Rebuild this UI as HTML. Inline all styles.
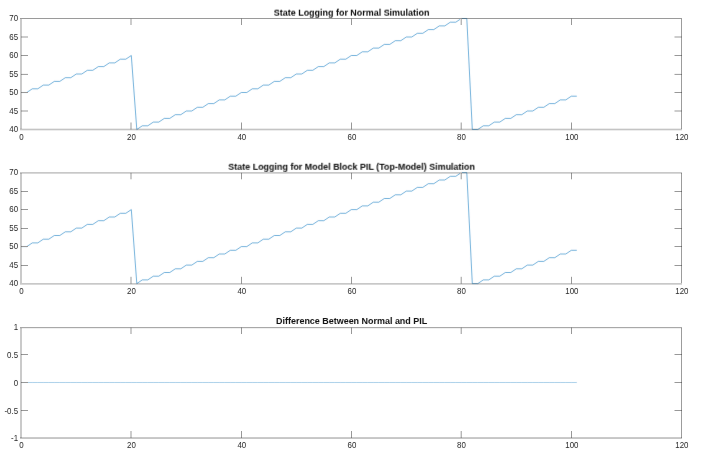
<!DOCTYPE html>
<html><head><meta charset="utf-8"><style>
html,body{margin:0;padding:0;background:#fff;width:704px;height:469px;overflow:hidden}
svg{display:block;position:absolute;left:0;top:0}
.tl{font-family:"Liberation Sans",sans-serif;font-size:9px;fill:#262626}
.tt{font-family:"Liberation Sans",sans-serif;font-size:9px;font-weight:bold;fill:#0d0d0d}
</style></head><body>
<svg class="dt" width="704" height="469" viewBox="0 0 704 469">
<g fill="none" stroke="#0072BD" stroke-width="0.55" stroke-linejoin="round">
<g filter="url(#db)">
<path d="M21.30,92.50 L26.80,92.50 L32.30,88.80 L37.80,88.80 L43.30,85.10 L48.80,85.10 L54.30,81.40 L59.80,81.40 L65.30,77.70 L70.80,77.70 L76.30,74.00 L81.80,74.00 L87.30,70.30 L92.80,70.30 L98.30,66.60 L103.80,66.60 L109.30,62.90 L114.80,62.90 L120.30,59.20 L125.80,59.20 L131.30,55.50 L136.80,129.50 L142.30,125.80 L147.80,125.80 L153.30,122.10 L158.80,122.10 L164.30,118.40 L169.80,118.40 L175.30,114.70 L180.80,114.70 L186.30,111.00 L191.80,111.00 L197.30,107.30 L202.80,107.30 L208.30,103.60 L213.80,103.60 L219.30,99.90 L224.80,99.90 L230.30,96.20 L235.80,96.20 L241.30,92.50 L246.80,92.50 L252.30,88.80 L257.80,88.80 L263.30,85.10 L268.80,85.10 L274.30,81.40 L279.80,81.40 L285.30,77.70 L290.80,77.70 L296.30,74.00 L301.80,74.00 L307.30,70.30 L312.80,70.30 L318.30,66.60 L323.80,66.60 L329.30,62.90 L334.80,62.90 L340.30,59.20 L345.80,59.20 L351.30,55.50 L356.80,55.50 L362.30,51.80 L367.80,51.80 L373.30,48.10 L378.80,48.10 L384.30,44.40 L389.80,44.40 L395.30,40.70 L400.80,40.70 L406.30,37.00 L411.80,37.00 L417.30,33.30 L422.80,33.30 L428.30,29.60 L433.80,29.60 L439.30,25.90 L444.80,25.90 L450.30,22.20 L455.80,22.20 L461.30,18.50 L466.80,18.50 L472.30,129.50 L477.80,129.50 L483.30,125.80 L488.80,125.80 L494.30,122.10 L499.80,122.10 L505.30,118.40 L510.80,118.40 L516.30,114.70 L521.80,114.70 L527.30,111.00 L532.80,111.00 L538.30,107.30 L543.80,107.30 L549.30,103.60 L554.80,103.60 L560.30,99.90 L565.80,99.90 L571.30,96.20 L576.80,96.20"/>
<path d="M21.30,246.60 L26.80,246.60 L32.30,242.90 L37.80,242.90 L43.30,239.20 L48.80,239.20 L54.30,235.50 L59.80,235.50 L65.30,231.80 L70.80,231.80 L76.30,228.10 L81.80,228.10 L87.30,224.40 L92.80,224.40 L98.30,220.70 L103.80,220.70 L109.30,217.00 L114.80,217.00 L120.30,213.30 L125.80,213.30 L131.30,209.60 L136.80,283.60 L142.30,279.90 L147.80,279.90 L153.30,276.20 L158.80,276.20 L164.30,272.50 L169.80,272.50 L175.30,268.80 L180.80,268.80 L186.30,265.10 L191.80,265.10 L197.30,261.40 L202.80,261.40 L208.30,257.70 L213.80,257.70 L219.30,254.00 L224.80,254.00 L230.30,250.30 L235.80,250.30 L241.30,246.60 L246.80,246.60 L252.30,242.90 L257.80,242.90 L263.30,239.20 L268.80,239.20 L274.30,235.50 L279.80,235.50 L285.30,231.80 L290.80,231.80 L296.30,228.10 L301.80,228.10 L307.30,224.40 L312.80,224.40 L318.30,220.70 L323.80,220.70 L329.30,217.00 L334.80,217.00 L340.30,213.30 L345.80,213.30 L351.30,209.60 L356.80,209.60 L362.30,205.90 L367.80,205.90 L373.30,202.20 L378.80,202.20 L384.30,198.50 L389.80,198.50 L395.30,194.80 L400.80,194.80 L406.30,191.10 L411.80,191.10 L417.30,187.40 L422.80,187.40 L428.30,183.70 L433.80,183.70 L439.30,180.00 L444.80,180.00 L450.30,176.30 L455.80,176.30 L461.30,172.60 L466.80,172.60 L472.30,283.60 L477.80,283.60 L483.30,279.90 L488.80,279.90 L494.30,276.20 L499.80,276.20 L505.30,272.50 L510.80,272.50 L516.30,268.80 L521.80,268.80 L527.30,265.10 L532.80,265.10 L538.30,261.40 L543.80,261.40 L549.30,257.70 L554.80,257.70 L560.30,254.00 L565.80,254.00 L571.30,250.30 L576.80,250.30"/>
<path d="M21.30,382.50 L26.80,382.50 L32.30,382.50 L37.80,382.50 L43.30,382.50 L48.80,382.50 L54.30,382.50 L59.80,382.50 L65.30,382.50 L70.80,382.50 L76.30,382.50 L81.80,382.50 L87.30,382.50 L92.80,382.50 L98.30,382.50 L103.80,382.50 L109.30,382.50 L114.80,382.50 L120.30,382.50 L125.80,382.50 L131.30,382.50 L136.80,382.50 L142.30,382.50 L147.80,382.50 L153.30,382.50 L158.80,382.50 L164.30,382.50 L169.80,382.50 L175.30,382.50 L180.80,382.50 L186.30,382.50 L191.80,382.50 L197.30,382.50 L202.80,382.50 L208.30,382.50 L213.80,382.50 L219.30,382.50 L224.80,382.50 L230.30,382.50 L235.80,382.50 L241.30,382.50 L246.80,382.50 L252.30,382.50 L257.80,382.50 L263.30,382.50 L268.80,382.50 L274.30,382.50 L279.80,382.50 L285.30,382.50 L290.80,382.50 L296.30,382.50 L301.80,382.50 L307.30,382.50 L312.80,382.50 L318.30,382.50 L323.80,382.50 L329.30,382.50 L334.80,382.50 L340.30,382.50 L345.80,382.50 L351.30,382.50 L356.80,382.50 L362.30,382.50 L367.80,382.50 L373.30,382.50 L378.80,382.50 L384.30,382.50 L389.80,382.50 L395.30,382.50 L400.80,382.50 L406.30,382.50 L411.80,382.50 L417.30,382.50 L422.80,382.50 L428.30,382.50 L433.80,382.50 L439.30,382.50 L444.80,382.50 L450.30,382.50 L455.80,382.50 L461.30,382.50 L466.80,382.50 L472.30,382.50 L477.80,382.50 L483.30,382.50 L488.80,382.50 L494.30,382.50 L499.80,382.50 L505.30,382.50 L510.80,382.50 L516.30,382.50 L521.80,382.50 L527.30,382.50 L532.80,382.50 L538.30,382.50 L543.80,382.50 L549.30,382.50 L554.80,382.50 L560.30,382.50 L565.80,382.50 L571.30,382.50 L576.80,382.50" stroke-opacity="0.62"/>
</g>
</g>
</svg>
<svg class="ln" width="704" height="469" viewBox="0 0 704 469">
<defs><filter id="tb" x="0" y="0" width="100%" height="100%" filterUnits="userSpaceOnUse"><feConvolveMatrix order="3" kernelMatrix="0.0001 0.0097 0.0001 0.0097 0.9606 0.0097 0.0001 0.0097 0.0001" divisor="1" edgeMode="none"/></filter><filter id="db" x="0" y="0" width="100%" height="100%" filterUnits="userSpaceOnUse"><feConvolveMatrix order="3" kernelMatrix="0.0016 0.0371 0.0016 0.0371 0.8450 0.0371 0.0016 0.0371 0.0016" divisor="1" edgeMode="none"/></filter></defs>
<rect x="20" y="18" width="662" height="1" fill="#323232" fill-opacity="0.493"/>
<rect x="20" y="128" width="662" height="1" fill="#323232" fill-opacity="0.093"/>
<rect x="20" y="129" width="662" height="1" fill="#323232" fill-opacity="0.288"/>
<rect x="20" y="130" width="662" height="1" fill="#323232" fill-opacity="0.093"/>
<rect x="20" y="19" width="2" height="110" fill="#323232" fill-opacity="0.259"/>
<rect x="681" y="19" width="1" height="110" fill="#323232" fill-opacity="0.483"/>
<rect x="20" y="172" width="662" height="1" fill="#323232" fill-opacity="0.268"/>
<rect x="20" y="173" width="662" height="1" fill="#323232" fill-opacity="0.190"/>
<rect x="20" y="283" width="662" height="1" fill="#323232" fill-opacity="0.268"/>
<rect x="20" y="284" width="662" height="1" fill="#323232" fill-opacity="0.190"/>
<rect x="20" y="173" width="2" height="110" fill="#323232" fill-opacity="0.259"/>
<rect x="681" y="173" width="1" height="110" fill="#323232" fill-opacity="0.483"/>
<rect x="20" y="327" width="662" height="1" fill="#323232" fill-opacity="0.424"/>
<rect x="20" y="328" width="662" height="1" fill="#323232" fill-opacity="0.073"/>
<rect x="20" y="437" width="662" height="1" fill="#323232" fill-opacity="0.259"/>
<rect x="20" y="438" width="662" height="1" fill="#323232" fill-opacity="0.278"/>
<rect x="20" y="328" width="2" height="110" fill="#323232" fill-opacity="0.259"/>
<rect x="681" y="328" width="1" height="110" fill="#323232" fill-opacity="0.483"/>
</svg>
<svg class="tk" width="704" height="469" viewBox="0 0 704 469">
<rect x="130" y="122" width="1" height="1" fill="#e5e5e5"/>
<rect x="130" y="123" width="1" height="5" fill="#cccccc"/>
<rect x="130" y="128" width="1" height="1" fill="#bebebe"/>
<rect x="130" y="129" width="1" height="1" fill="#b5b5b5"/>
<rect x="131" y="122" width="1" height="1" fill="#e5e5e5"/>
<rect x="131" y="123" width="1" height="5" fill="#cccccc"/>
<rect x="131" y="128" width="1" height="1" fill="#bebebe"/>
<rect x="131" y="129" width="1" height="1" fill="#b5b5b5"/>
<rect x="130" y="18" width="1" height="1" fill="#929292"/>
<rect x="130" y="19" width="1" height="6" fill="#cccccc"/>
<rect x="131" y="18" width="1" height="1" fill="#929292"/>
<rect x="131" y="19" width="1" height="6" fill="#cccccc"/>
<rect x="241" y="122" width="1" height="1" fill="#cccccc"/>
<rect x="241" y="123" width="1" height="5" fill="#989898"/>
<rect x="241" y="128" width="1" height="1" fill="#909090"/>
<rect x="241" y="129" width="1" height="1" fill="#a2a2a2"/>
<rect x="241" y="18" width="1" height="1" fill="#848484"/>
<rect x="241" y="19" width="1" height="6" fill="#989898"/>
<rect x="351" y="122" width="1" height="1" fill="#cccccc"/>
<rect x="351" y="123" width="1" height="5" fill="#989898"/>
<rect x="351" y="128" width="1" height="1" fill="#909090"/>
<rect x="351" y="129" width="1" height="1" fill="#a2a2a2"/>
<rect x="351" y="18" width="1" height="1" fill="#848484"/>
<rect x="351" y="19" width="1" height="6" fill="#989898"/>
<rect x="460" y="122" width="1" height="1" fill="#f0f0f0"/>
<rect x="460" y="123" width="1" height="5" fill="#e0e0e0"/>
<rect x="460" y="128" width="1" height="1" fill="#d1d1d1"/>
<rect x="460" y="129" width="1" height="1" fill="#bcbcbc"/>
<rect x="461" y="122" width="1" height="1" fill="#dbdbdb"/>
<rect x="461" y="123" width="1" height="5" fill="#b7b7b7"/>
<rect x="461" y="128" width="1" height="1" fill="#acacac"/>
<rect x="461" y="129" width="1" height="1" fill="#adadad"/>
<rect x="460" y="18" width="1" height="1" fill="#979797"/>
<rect x="460" y="19" width="1" height="6" fill="#e0e0e0"/>
<rect x="461" y="18" width="1" height="1" fill="#8c8c8c"/>
<rect x="461" y="19" width="1" height="6" fill="#b7b7b7"/>
<rect x="571" y="122" width="1" height="1" fill="#cccccc"/>
<rect x="571" y="123" width="1" height="5" fill="#989898"/>
<rect x="571" y="128" width="1" height="1" fill="#909090"/>
<rect x="571" y="129" width="1" height="1" fill="#a2a2a2"/>
<rect x="571" y="18" width="1" height="1" fill="#848484"/>
<rect x="571" y="19" width="1" height="6" fill="#989898"/>
<rect x="21" y="110" width="1" height="1" fill="#a6a6a6"/>
<rect x="22" y="110" width="6" height="1" fill="#cccccc"/>
<rect x="21" y="111" width="1" height="1" fill="#a6a6a6"/>
<rect x="22" y="111" width="6" height="1" fill="#cccccc"/>
<rect x="674" y="110" width="1" height="1" fill="#e5e5e5"/>
<rect x="675" y="110" width="6" height="1" fill="#cccccc"/>
<rect x="681" y="110" width="1" height="1" fill="#868686"/>
<rect x="674" y="111" width="1" height="1" fill="#e5e5e5"/>
<rect x="675" y="111" width="6" height="1" fill="#cccccc"/>
<rect x="681" y="111" width="1" height="1" fill="#868686"/>
<rect x="21" y="92" width="1" height="1" fill="#7f7f7f"/>
<rect x="22" y="92" width="6" height="1" fill="#989898"/>
<rect x="674" y="92" width="1" height="1" fill="#cccccc"/>
<rect x="675" y="92" width="6" height="1" fill="#989898"/>
<rect x="681" y="92" width="1" height="1" fill="#6a6a6a"/>
<rect x="21" y="73" width="1" height="1" fill="#c5c5c5"/>
<rect x="22" y="73" width="6" height="1" fill="#f5f5f5"/>
<rect x="21" y="74" width="1" height="1" fill="#878787"/>
<rect x="22" y="74" width="6" height="1" fill="#a3a3a3"/>
<rect x="674" y="73" width="1" height="1" fill="#fafafa"/>
<rect x="675" y="73" width="6" height="1" fill="#f5f5f5"/>
<rect x="681" y="73" width="1" height="1" fill="#9c9c9c"/>
<rect x="674" y="74" width="1" height="1" fill="#d1d1d1"/>
<rect x="675" y="74" width="6" height="1" fill="#a3a3a3"/>
<rect x="681" y="74" width="1" height="1" fill="#6f6f6f"/>
<rect x="21" y="55" width="1" height="1" fill="#7f7f7f"/>
<rect x="22" y="55" width="6" height="1" fill="#989898"/>
<rect x="674" y="55" width="1" height="1" fill="#cccccc"/>
<rect x="675" y="55" width="6" height="1" fill="#989898"/>
<rect x="681" y="55" width="1" height="1" fill="#6a6a6a"/>
<rect x="21" y="36" width="1" height="1" fill="#a6a6a6"/>
<rect x="22" y="36" width="6" height="1" fill="#cccccc"/>
<rect x="21" y="37" width="1" height="1" fill="#a6a6a6"/>
<rect x="22" y="37" width="6" height="1" fill="#cccccc"/>
<rect x="674" y="36" width="1" height="1" fill="#e5e5e5"/>
<rect x="675" y="36" width="6" height="1" fill="#cccccc"/>
<rect x="681" y="36" width="1" height="1" fill="#868686"/>
<rect x="674" y="37" width="1" height="1" fill="#e5e5e5"/>
<rect x="675" y="37" width="6" height="1" fill="#cccccc"/>
<rect x="681" y="37" width="1" height="1" fill="#868686"/>
<rect x="130" y="276" width="1" height="1" fill="#f5f5f5"/>
<rect x="130" y="277" width="1" height="6" fill="#cccccc"/>
<rect x="130" y="283" width="1" height="1" fill="#acacac"/>
<rect x="131" y="276" width="1" height="1" fill="#f5f5f5"/>
<rect x="131" y="277" width="1" height="6" fill="#cccccc"/>
<rect x="131" y="283" width="1" height="1" fill="#acacac"/>
<rect x="130" y="172" width="1" height="1" fill="#c3c3c3"/>
<rect x="130" y="173" width="1" height="1" fill="#b0b0b0"/>
<rect x="130" y="174" width="1" height="5" fill="#cccccc"/>
<rect x="130" y="179" width="1" height="1" fill="#f0f0f0"/>
<rect x="131" y="172" width="1" height="1" fill="#c3c3c3"/>
<rect x="131" y="173" width="1" height="1" fill="#b0b0b0"/>
<rect x="131" y="174" width="1" height="5" fill="#cccccc"/>
<rect x="131" y="179" width="1" height="1" fill="#f0f0f0"/>
<rect x="241" y="276" width="1" height="1" fill="#ebebeb"/>
<rect x="241" y="277" width="1" height="6" fill="#989898"/>
<rect x="241" y="283" width="1" height="1" fill="#8e8e8e"/>
<rect x="241" y="172" width="1" height="1" fill="#bcbcbc"/>
<rect x="241" y="173" width="1" height="1" fill="#868686"/>
<rect x="241" y="174" width="1" height="5" fill="#989898"/>
<rect x="241" y="179" width="1" height="1" fill="#e0e0e0"/>
<rect x="351" y="276" width="1" height="1" fill="#ebebeb"/>
<rect x="351" y="277" width="1" height="6" fill="#989898"/>
<rect x="351" y="283" width="1" height="1" fill="#8e8e8e"/>
<rect x="351" y="172" width="1" height="1" fill="#bcbcbc"/>
<rect x="351" y="173" width="1" height="1" fill="#868686"/>
<rect x="351" y="174" width="1" height="5" fill="#989898"/>
<rect x="351" y="179" width="1" height="1" fill="#e0e0e0"/>
<rect x="460" y="276" width="1" height="1" fill="#f9f9f9"/>
<rect x="460" y="277" width="1" height="6" fill="#e0e0e0"/>
<rect x="460" y="283" width="1" height="1" fill="#b9b9b9"/>
<rect x="461" y="276" width="1" height="1" fill="#f1f1f1"/>
<rect x="461" y="277" width="1" height="6" fill="#b7b7b7"/>
<rect x="461" y="283" width="1" height="1" fill="#a0a0a0"/>
<rect x="460" y="172" width="1" height="1" fill="#c6c6c6"/>
<rect x="460" y="173" width="1" height="1" fill="#c1c1c1"/>
<rect x="460" y="174" width="1" height="5" fill="#e0e0e0"/>
<rect x="460" y="179" width="1" height="1" fill="#f6f6f6"/>
<rect x="461" y="172" width="1" height="1" fill="#c0c0c0"/>
<rect x="461" y="173" width="1" height="1" fill="#9f9f9f"/>
<rect x="461" y="174" width="1" height="5" fill="#b7b7b7"/>
<rect x="461" y="179" width="1" height="1" fill="#e9e9e9"/>
<rect x="571" y="276" width="1" height="1" fill="#ebebeb"/>
<rect x="571" y="277" width="1" height="6" fill="#989898"/>
<rect x="571" y="283" width="1" height="1" fill="#8e8e8e"/>
<rect x="571" y="172" width="1" height="1" fill="#bcbcbc"/>
<rect x="571" y="173" width="1" height="1" fill="#868686"/>
<rect x="571" y="174" width="1" height="5" fill="#989898"/>
<rect x="571" y="179" width="1" height="1" fill="#e0e0e0"/>
<rect x="21" y="265" width="1" height="1" fill="#7f7f7f"/>
<rect x="22" y="265" width="6" height="1" fill="#989898"/>
<rect x="674" y="265" width="1" height="1" fill="#cccccc"/>
<rect x="675" y="265" width="6" height="1" fill="#989898"/>
<rect x="681" y="265" width="1" height="1" fill="#6a6a6a"/>
<rect x="21" y="246" width="1" height="1" fill="#7f7f7f"/>
<rect x="22" y="246" width="6" height="1" fill="#989898"/>
<rect x="674" y="246" width="1" height="1" fill="#cccccc"/>
<rect x="675" y="246" width="6" height="1" fill="#989898"/>
<rect x="681" y="246" width="1" height="1" fill="#6a6a6a"/>
<rect x="21" y="228" width="1" height="1" fill="#7f7f7f"/>
<rect x="22" y="228" width="6" height="1" fill="#989898"/>
<rect x="674" y="228" width="1" height="1" fill="#cccccc"/>
<rect x="675" y="228" width="6" height="1" fill="#989898"/>
<rect x="681" y="228" width="1" height="1" fill="#6a6a6a"/>
<rect x="21" y="209" width="1" height="1" fill="#7f7f7f"/>
<rect x="22" y="209" width="6" height="1" fill="#989898"/>
<rect x="674" y="209" width="1" height="1" fill="#cccccc"/>
<rect x="675" y="209" width="6" height="1" fill="#989898"/>
<rect x="681" y="209" width="1" height="1" fill="#6a6a6a"/>
<rect x="21" y="191" width="1" height="1" fill="#7f7f7f"/>
<rect x="22" y="191" width="6" height="1" fill="#989898"/>
<rect x="674" y="191" width="1" height="1" fill="#cccccc"/>
<rect x="675" y="191" width="6" height="1" fill="#989898"/>
<rect x="681" y="191" width="1" height="1" fill="#6a6a6a"/>
<rect x="130" y="431" width="1" height="6" fill="#cccccc"/>
<rect x="130" y="437" width="1" height="1" fill="#a6a6a6"/>
<rect x="131" y="431" width="1" height="6" fill="#cccccc"/>
<rect x="131" y="437" width="1" height="1" fill="#a6a6a6"/>
<rect x="130" y="327" width="1" height="1" fill="#9d9d9d"/>
<rect x="130" y="328" width="1" height="1" fill="#c1c1c1"/>
<rect x="130" y="329" width="1" height="5" fill="#cccccc"/>
<rect x="131" y="327" width="1" height="1" fill="#9d9d9d"/>
<rect x="131" y="328" width="1" height="1" fill="#c1c1c1"/>
<rect x="131" y="329" width="1" height="5" fill="#cccccc"/>
<rect x="241" y="431" width="1" height="6" fill="#989898"/>
<rect x="241" y="437" width="1" height="1" fill="#7f7f7f"/>
<rect x="241" y="327" width="1" height="1" fill="#8e8e8e"/>
<rect x="241" y="328" width="1" height="1" fill="#919191"/>
<rect x="241" y="329" width="1" height="5" fill="#989898"/>
<rect x="351" y="431" width="1" height="6" fill="#989898"/>
<rect x="351" y="437" width="1" height="1" fill="#7f7f7f"/>
<rect x="351" y="327" width="1" height="1" fill="#8e8e8e"/>
<rect x="351" y="328" width="1" height="1" fill="#919191"/>
<rect x="351" y="329" width="1" height="5" fill="#989898"/>
<rect x="460" y="431" width="1" height="6" fill="#e0e0e0"/>
<rect x="460" y="437" width="1" height="1" fill="#b6b6b6"/>
<rect x="461" y="431" width="1" height="6" fill="#b7b7b7"/>
<rect x="461" y="437" width="1" height="1" fill="#979797"/>
<rect x="460" y="327" width="1" height="1" fill="#a4a4a4"/>
<rect x="460" y="328" width="1" height="1" fill="#d4d4d4"/>
<rect x="460" y="329" width="1" height="5" fill="#e0e0e0"/>
<rect x="461" y="327" width="1" height="1" fill="#979797"/>
<rect x="461" y="328" width="1" height="1" fill="#aeaeae"/>
<rect x="461" y="329" width="1" height="5" fill="#b7b7b7"/>
<rect x="571" y="431" width="1" height="6" fill="#989898"/>
<rect x="571" y="437" width="1" height="1" fill="#7f7f7f"/>
<rect x="571" y="327" width="1" height="1" fill="#8e8e8e"/>
<rect x="571" y="328" width="1" height="1" fill="#919191"/>
<rect x="571" y="329" width="1" height="5" fill="#989898"/>
<rect x="21" y="410" width="1" height="1" fill="#7f7f7f"/>
<rect x="22" y="410" width="6" height="1" fill="#989898"/>
<rect x="674" y="410" width="1" height="1" fill="#cccccc"/>
<rect x="675" y="410" width="6" height="1" fill="#989898"/>
<rect x="681" y="410" width="1" height="1" fill="#6a6a6a"/>
<rect x="21" y="382" width="1" height="1" fill="#7f7f7f"/>
<rect x="22" y="382" width="6" height="1" fill="#989898"/>
<rect x="674" y="382" width="1" height="1" fill="#cccccc"/>
<rect x="675" y="382" width="6" height="1" fill="#989898"/>
<rect x="681" y="382" width="1" height="1" fill="#6a6a6a"/>
<rect x="21" y="354" width="1" height="1" fill="#7f7f7f"/>
<rect x="22" y="354" width="6" height="1" fill="#989898"/>
<rect x="674" y="354" width="1" height="1" fill="#cccccc"/>
<rect x="675" y="354" width="6" height="1" fill="#989898"/>
<rect x="681" y="354" width="1" height="1" fill="#6a6a6a"/>
</svg>
<svg class="tx" width="704" height="469" viewBox="0 0 704 469">
<g filter="url(#tb)">
<text transform="translate(21.40,139.70) scale(0.88,1)" class="tl" text-anchor="middle">0</text>
<text transform="translate(131.40,139.70) scale(0.88,1)" class="tl" text-anchor="middle">20</text>
<text transform="translate(241.80,139.70) scale(0.88,1)" class="tl" text-anchor="middle">40</text>
<text transform="translate(351.90,139.70) scale(0.88,1)" class="tl" text-anchor="middle">60</text>
<text transform="translate(461.50,139.70) scale(0.88,1)" class="tl" text-anchor="middle">80</text>
<text transform="translate(571.90,139.70) scale(0.88,1)" class="tl" text-anchor="middle">100</text>
<text transform="translate(681.90,139.70) scale(0.88,1)" class="tl" text-anchor="middle">120</text>
<text transform="translate(18.1,132.10) scale(0.88,1)" class="tl" text-anchor="end">40</text>
<text transform="translate(18.1,113.60) scale(0.88,1)" class="tl" text-anchor="end">45</text>
<text transform="translate(18.1,95.00) scale(0.88,1)" class="tl" text-anchor="end">50</text>
<text transform="translate(18.1,76.80) scale(0.88,1)" class="tl" text-anchor="end">55</text>
<text transform="translate(18.1,58.10) scale(0.88,1)" class="tl" text-anchor="end">60</text>
<text transform="translate(18.1,39.60) scale(0.88,1)" class="tl" text-anchor="end">65</text>
<text transform="translate(18.1,21.10) scale(0.88,1)" class="tl" text-anchor="end">70</text>
<text transform="translate(351.65,15.7) scale(0.995,1) rotate(0.001)" class="tt" text-anchor="middle">State Logging for Normal Simulation</text>
<text transform="translate(21.40,294.00) scale(0.88,1)" class="tl" text-anchor="middle">0</text>
<text transform="translate(131.40,294.00) scale(0.88,1)" class="tl" text-anchor="middle">20</text>
<text transform="translate(241.80,294.00) scale(0.88,1)" class="tl" text-anchor="middle">40</text>
<text transform="translate(351.90,294.00) scale(0.88,1)" class="tl" text-anchor="middle">60</text>
<text transform="translate(461.50,294.00) scale(0.88,1)" class="tl" text-anchor="middle">80</text>
<text transform="translate(571.90,294.00) scale(0.88,1)" class="tl" text-anchor="middle">100</text>
<text transform="translate(681.90,294.00) scale(0.88,1)" class="tl" text-anchor="middle">120</text>
<text transform="translate(18.1,286.20) scale(0.88,1)" class="tl" text-anchor="end">40</text>
<text transform="translate(18.1,267.90) scale(0.88,1)" class="tl" text-anchor="end">45</text>
<text transform="translate(18.1,248.90) scale(0.88,1)" class="tl" text-anchor="end">50</text>
<text transform="translate(18.1,230.90) scale(0.88,1)" class="tl" text-anchor="end">55</text>
<text transform="translate(18.1,211.90) scale(0.88,1)" class="tl" text-anchor="end">60</text>
<text transform="translate(18.1,193.90) scale(0.88,1)" class="tl" text-anchor="end">65</text>
<text transform="translate(18.1,175.20) scale(0.88,1)" class="tl" text-anchor="end">70</text>
<text transform="translate(351.65,169.8) scale(0.995,1) rotate(0.001)" class="tt" text-anchor="middle">State Logging for Model Block PIL (Top-Model) Simulation</text>
<text transform="translate(21.40,448.20) scale(0.88,1)" class="tl" text-anchor="middle">0</text>
<text transform="translate(131.40,448.20) scale(0.88,1)" class="tl" text-anchor="middle">20</text>
<text transform="translate(241.80,448.20) scale(0.88,1)" class="tl" text-anchor="middle">40</text>
<text transform="translate(351.90,448.20) scale(0.88,1)" class="tl" text-anchor="middle">60</text>
<text transform="translate(461.50,448.20) scale(0.88,1)" class="tl" text-anchor="middle">80</text>
<text transform="translate(571.90,448.20) scale(0.88,1)" class="tl" text-anchor="middle">100</text>
<text transform="translate(681.90,448.20) scale(0.88,1)" class="tl" text-anchor="middle">120</text>
<text transform="translate(18.1,441.40) scale(0.88,1)" class="tl" text-anchor="end">-1</text>
<text transform="translate(18.1,413.90) scale(0.88,1)" class="tl" text-anchor="end">-0.5</text>
<text transform="translate(18.1,385.90) scale(0.88,1)" class="tl" text-anchor="end">0</text>
<text transform="translate(18.1,357.90) scale(0.88,1)" class="tl" text-anchor="end">0.5</text>
<text transform="translate(18.1,330.00) scale(0.88,1)" class="tl" text-anchor="end">1</text>
<text transform="translate(351.65,324.0) scale(0.995,1) rotate(0.001)" class="tt" text-anchor="middle">Difference Between Normal and PIL</text>
</g>
</svg>
</body></html>
